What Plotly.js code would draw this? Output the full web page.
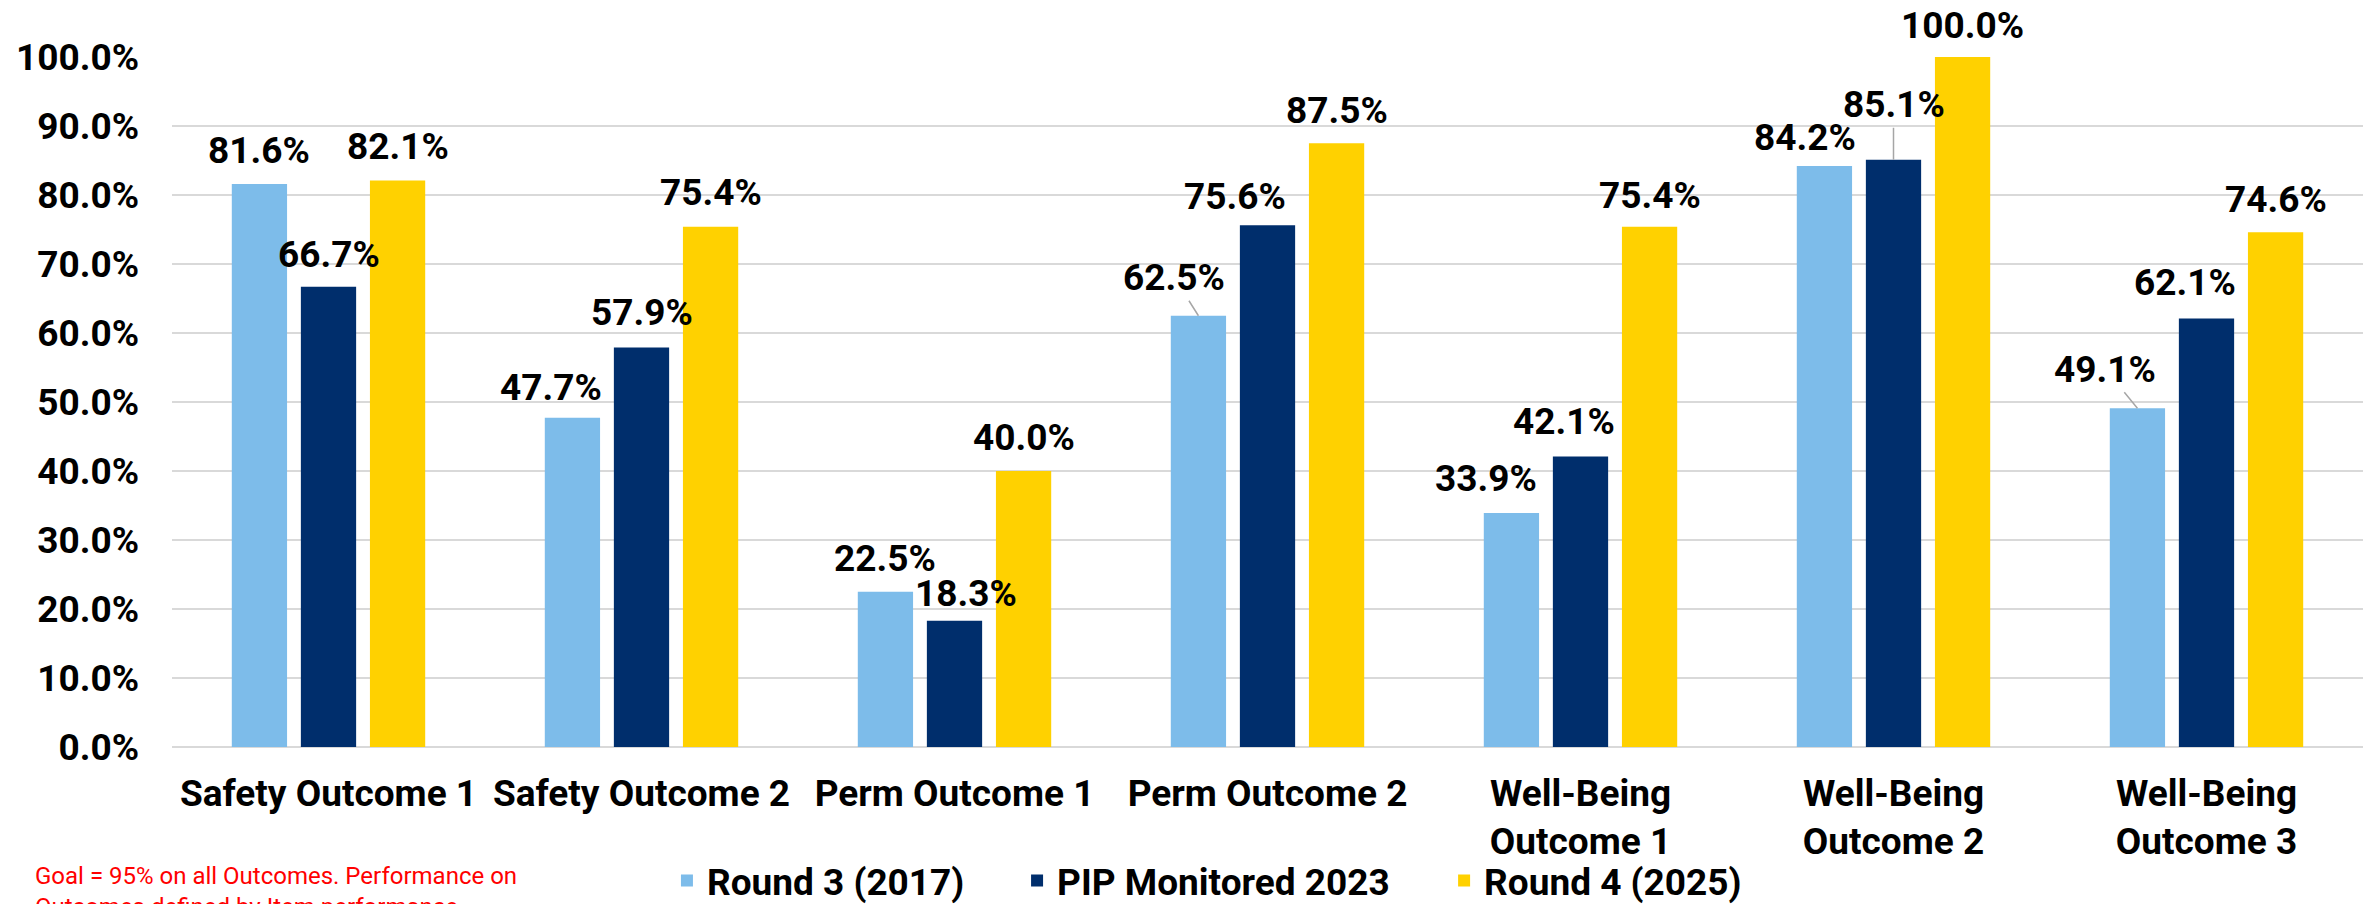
<!DOCTYPE html>
<html>
<head>
<meta charset="utf-8">
<script src="https://cdn.plot.ly/plotly-3.0.1.min.js"></script>
<style>
  html, body { margin: 0; padding: 0; background: #fff; }
  #outcomeChart { width: 2369px; height: 904px; }
</style>
</head>
<body>
<div id="outcomeChart"></div>
<script>
'use strict'

// categories and series values (fractions, shown as %)
var categories = ['Safety Outcome 1', 'Safety Outcome 2', 'Perm Outcome 1', 'Perm Outcome 2',
    'Well-Being<br>Outcome 1', 'Well-Being<br>Outcome 2', 'Well-Being<br>Outcome 3'];
var round3 = [0.816, 0.477, 0.225, 0.625, 0.339, 0.842, 0.491];
var pip2023 = [0.667, 0.579, 0.183, 0.756, 0.421, 0.851, 0.621];
var round4 = [0.821, 0.754, 0.400, 0.875, 0.754, 1.000, 0.746];
var seriesNames = ['Round 3 (2017)', 'PIP Monitored 2023', 'Round 4 (2025)'];

// hand-moved data labels in the original (pixel nudges), and which have leader lines
var nudgeX = [[0, -21, 0, -24, -25, -19, -32], [0, 0, 11, -33, -17, 0, -22], [0, 0, 0, 0, 0, 0, 0]];
var nudgeY = [[0, 3, 0, -5, -2, 4, -6], [1, -2, 6, 4, -2, -22, -3], [-1, -1, -1, 0, 2, 1, 0]];
var leaders = [[3, 6], [5], []];

var colors = ['#7DBCEA', '#002E6C', '#FFD100'];
var bargap = 0.338;
var slot = (1 - bargap) / 3;
var labelFont = { family: 'Roboto, sans-serif', size: 37, color: '#000', weight: 700 };

var allValues = [round3, pip2023, round4];
// each legend entry sits on its own, spaced like the original
var legendIds = ['legend', 'legend2', 'legend3'];
var legendX = [0.2259, 0.3857, 0.5806];

var data = allValues.map(function (vals, s) {
    return {
        type: 'bar',
        name: seriesNames[s],
        legend: legendIds[s],
        x: categories,
        y: vals,
        marker: { color: colors[s] },
        hoverinfo: 'skip'
    };
});

var annotations = [];
allValues.forEach(function (vals, s) {
    vals.forEach(function (v, i) {
        var hasLine = leaders[s].indexOf(i) >= 0;
        annotations.push({
            x: i + (s - 1) * slot,
            y: v,
            xref: 'x',
            yref: 'y',
            text: (v * 100).toFixed(1) + '%',
            font: labelFont,
            showarrow: true,
            arrowhead: 0,
            arrowwidth: 1.5,
            arrowcolor: hasLine ? '#A6A6A6' : 'rgba(0,0,0,0)',
            standoff: 0,
            ax: nudgeX[s][i],
            ay: -33 + nudgeY[s][i]
        });
    });
});

annotations.push({
    xref: 'paper',
    yref: 'paper',
    x: -0.0634,
    y: -0.164,
    xanchor: 'left',
    yanchor: 'top',
    align: 'left',
    showarrow: false,
    text: 'Goal = 95% on all Outcomes. Performance on<br>Outcomes defined by Item performance',
    font: { family: 'Roboto, sans-serif', size: 24, color: '#FF0000', weight: 400 }
});

var layout = {
    width: 2369,
    height: 904,
    margin: { l: 172, r: 6, t: 57, b: 157, autoexpand: false },
    paper_bgcolor: '#fff',
    plot_bgcolor: '#fff',
    barmode: 'group',
    bargap: bargap,
    bargroupgap: 0.2,
    font: labelFont,
    xaxis: {
        type: 'category',
        showline: false,
        showgrid: false,
        ticks: '',
        ticklabelstandoff: 21,
        tickfont: labelFont
    },
    yaxis: {
        range: [0, 1],
        dtick: 0.1,
        tickformat: '.1%',
        showgrid: true,
        gridcolor: '#D9D9D9',
        gridwidth: 2,
        zeroline: true,
        zerolinecolor: '#D9D9D9',
        zerolinewidth: 2,
        ticks: '',
        ticklabelstandoff: 32,
        tickfont: labelFont
    },
    showlegend: true,
    annotations: annotations
};

legendIds.forEach(function (id, s) {
    layout[id] = {
        orientation: 'h',
        x: legendX[s],
        xanchor: 'left',
        y: -0.194,
        yanchor: 'middle',
        font: labelFont,
        itemwidth: 30,
        bgcolor: 'rgba(0,0,0,0)'
    };
});

Plotly.newPlot('outcomeChart', data, layout, { displayModeBar: false, staticPlot: true });
</script>
</body>
</html>
